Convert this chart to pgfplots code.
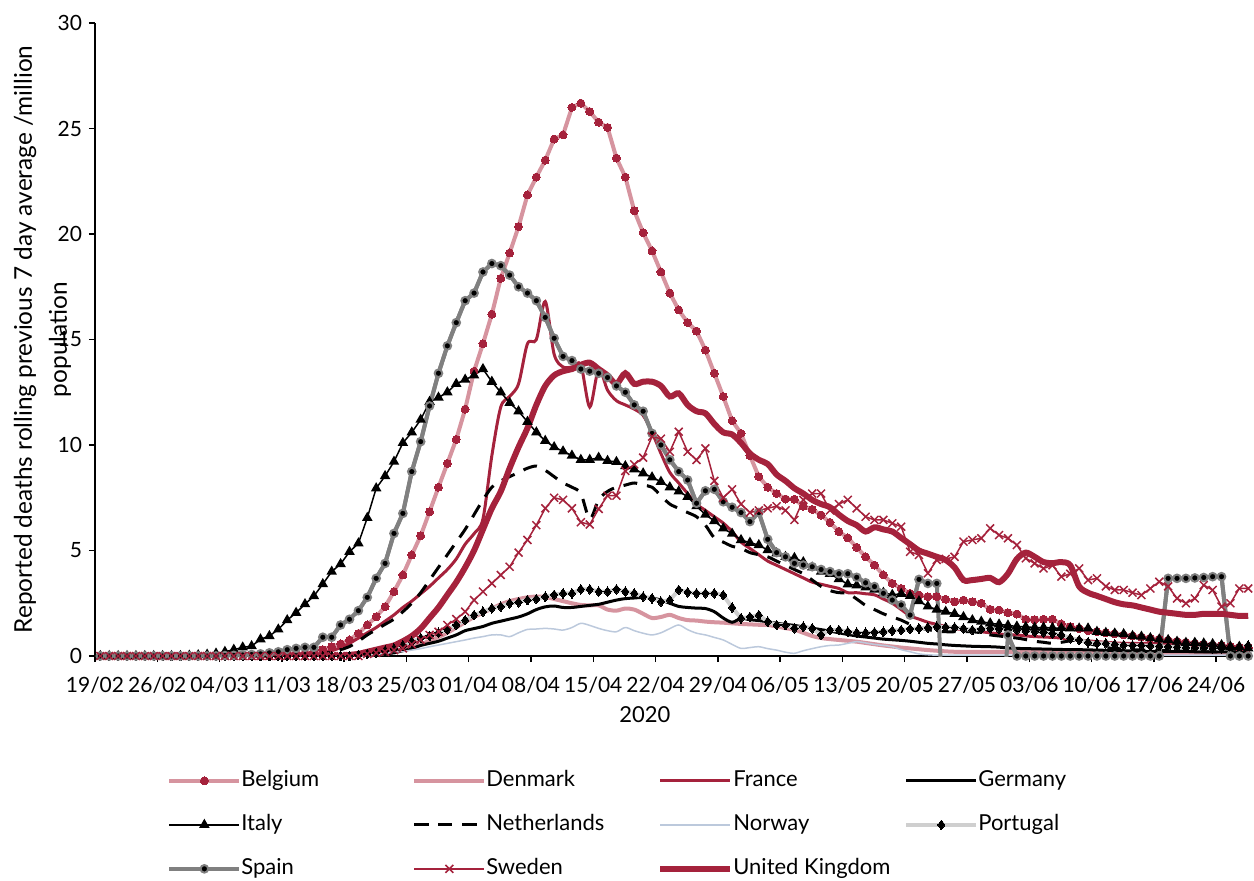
\documentclass[border=0pt]{standalone}
\usepackage{fontspec}
\setmainfont{Lato}
\usepackage{pgfplots}
\usepackage{pgfplotstable}
\pgfplotsset{compat=1.18}
\definecolor{crim}{RGB}{165,34,60}
\definecolor{pinkl}{RGB}{214,148,159}
\definecolor{spg}{RGB}{128,128,128}
\definecolor{porg}{RGB}{207,207,207}
\definecolor{norb}{RGB}{188,201,220}
\pgfplotstableread{
k Bel Den Fra Ger Ita Net Nor Por Spa Swe UK
0 0 0 0 0 0 0 0 0 0 0 0
1 0 0 0 0 0 0 0 0 0 0 0
2 0 0 0 0 0 0 0 0 0 0 0
3 0 0 0 0 0 0 0 0 0 0 0
4 0 0 0 0 0 0 0 0 0 0 0
5 0 0 0 0 0 0 0 0 0 0 0
6 0 0 0 0 0 0 0 0 0 0 0
7 0 0 0 0 0 0 0 0 0 0 0
8 0 0 0 0 0 0 0 0 0 0 0
9 0 0 0 0 0 0 0 0 0 0 0
10 0 0 0 0 0.02 0 0 0 0 0 0
11 0 0 0 0 0.04 0 0 0 0 0 0
12 0 0 0 0 0.07 0 0 0 0 0 0
13 0 0 0 0 0.12 0 0 0 0 0 0
14 0 0 0 0 0.2 0 0 0 0.02 0 0
15 0 0 0 0 0.3 0 0 0 0.03 0 0
16 0 0 0 0 0.41 0 0 0 0.05 0 0
17 0 0 0 0 0.47 0 0 0 0.07 0 0
18 0 0 0 0 0.79 0 0 0 0.1 0 0
19 0 0 0 0 0.95 0 0 0 0.15 0 0
20 0.03 0 0 0 1.26 0 0 0 0.2 0 0
21 0.05 0 0 0 1.7 0 0 0 0.3 0 0
22 0.08 0 0 0 2.05 0 0 0 0.36 0 0
23 0.12 0 0 0 2.46 0 0 0 0.41 0 0
24 0.2 0 0 0 2.84 0 0 0 0.41 0 0
25 0.3 0 0.15 0 3.41 0.1 0 0 0.89 0 0
26 0.44 0 0.25 0 4.0 0.2 0 0 0.89 0 0
27 0.57 0 0.4 0 4.36 0.3 0 0 1.47 0 0
28 0.76 0 0.6 0.02 4.94 0.45 0 0 1.74 0 0.05
29 1.07 0 0.85 0.04 5.34 0.7 0 0.05 2.15 0 0.1
30 1.47 0.05 1.1 0.06 6.55 1.0 0.05 0.1 2.78 0.1 0.2
31 1.86 0.08 1.35 0.08 7.95 1.25 0.08 0.15 3.68 0.15 0.3
32 2.34 0.12 1.65 0.1 8.53 1.5 0.12 0.25 4.39 0.2 0.4
33 3.05 0.2 1.95 0.15 9.21 1.75 0.18 0.35 5.81 0.28 0.5
34 3.84 0.3 2.3 0.25 10.1 2.1 0.22 0.5 6.76 0.36 0.7
35 4.79 0.42 2.6 0.35 10.6 2.5 0.28 0.68 8.74 0.55 0.95
36 5.7 0.55 2.95 0.5 11.2 3.0 0.35 0.85 10.16 0.76 1.3
37 6.84 0.72 3.3 0.6 12.05 3.6 0.44 0.95 11.85 1.0 1.8
38 8.0 0.9 3.7 0.7 12.25 4.2 0.52 1.1 13.4 1.15 2.3
39 9.13 1.1 4.1 0.85 12.5 4.8 0.6 1.25 14.7 1.47 2.9
40 10.27 1.35 4.6 1.0 12.9 5.4 0.68 1.47 15.8 1.75 3.5
41 11.7 1.6 5.3 1.2 13.1 6.0 0.76 1.7 16.84 2.1 4.2
42 13.5 1.85 5.8 1.3 13.3 6.7 0.85 1.94 17.2 2.65 5.0
43 14.8 2.05 6.5 1.4 13.6 7.4 0.92 2.1 18.2 3.05 6.0
44 16.2 2.25 9.5 1.55 13.0 8.0 1.0 2.26 18.6 3.44 7.0
45 17.9 2.45 11.8 1.65 12.5 8.3 1.0 2.34 18.5 3.84 7.8
46 19.1 2.6 12.3 1.75 12.0 8.5 0.92 2.5 18.05 4.23 8.9
47 20.35 2.7 12.9 1.85 11.6 8.7 1.1 2.55 17.5 4.9 9.9
48 21.85 2.78 14.8 2.0 11.1 8.9 1.26 2.65 17.2 5.5 10.8
49 22.7 2.82 15.0 2.2 10.6 9.0 1.28 2.7 16.84 6.2 11.9
50 23.5 2.8 16.8 2.33 10.2 8.8 1.31 2.81 16.05 7.0 12.8
51 24.5 2.7 14.3 2.37 9.9 8.5 1.28 2.9 15.06 7.5 13.3
52 24.7 2.6 13.7 2.3 9.7 8.2 1.23 2.97 14.2 7.4 13.5
53 26.0 2.5 13.7 2.3 9.5 8.0 1.35 2.97 14.0 7.0 13.6
54 26.2 2.42 13.8 2.35 9.3 7.7 1.55 3.16 13.6 6.34 13.8
55 25.8 2.4 11.8 2.4 9.3 6.5 1.45 3.16 13.5 6.23 13.9
56 25.3 2.4 13.6 2.45 9.4 7.4 1.31 3.05 13.4 6.97 13.6
57 25.05 2.2 12.6 2.55 9.25 7.8 1.2 3.05 13.2 7.6 13.3
58 23.6 2.15 12.1 2.65 9.2 8.0 1.15 3.16 12.8 7.6 12.9
59 22.7 2.25 11.9 2.72 9.0 8.1 1.35 3.05 12.5 8.77 13.4
60 21.1 2.2 11.7 2.75 8.85 8.2 1.2 2.97 11.9 9.08 12.9
61 20.06 2.0 11.4 2.78 8.66 8.1 1.08 2.81 11.6 9.4 13.0
62 19.2 1.8 10.6 2.75 8.47 8.0 1.0 2.73 10.55 10.4 13.0
63 18.2 1.85 9.6 2.65 8.26 7.6 1.1 2.57 10.0 10.3 12.8
64 17.2 1.95 8.7 2.5 8.0 7.2 1.3 2.65 9.3 9.68 12.3
65 16.4 1.8 8.2 2.35 7.8 7.0 1.47 3.13 8.74 10.63 12.45
66 15.8 1.7 7.7 2.3 7.55 6.8 1.25 3.02 8.34 9.68 11.9
67 15.4 1.68 7.2 2.27 7.1 6.6 1.08 2.97 7.24 9.29 11.6
68 14.5 1.63 6.9 2.25 6.7 6.2 1.0 2.97 7.83 9.84 11.5
69 13.4 1.6 6.6 2.1 6.4 5.6 0.88 2.97 7.9 8.3 11.0
70 12.3 1.58 6.3 1.8 6.05 5.4 0.76 2.89 7.31 7.5 10.6
71 11.15 1.55 5.9 1.6 5.8 5.2 0.55 2.3 7.05 7.9 10.5
72 10.55 1.52 5.4 1.78 5.5 5.1 0.36 1.79 6.8 7.2 10.1
73 9.5 1.5 5.1 1.72 5.37 4.9 0.4 1.85 6.37 6.8 9.6
74 8.5 1.48 4.8 1.68 5.26 4.8 0.44 1.94 6.8 6.9 9.3
75 8.0 1.47 4.5 1.62 5.02 4.7 0.35 1.63 5.53 7.0 9.1
76 7.7 1.4 4.3 1.55 4.87 4.5 0.28 1.47 4.9 7.1 8.6
77 7.44 1.32 4.1 1.5 4.7 4.3 0.18 1.47 4.7 6.9 8.3
78 7.43 1.25 3.9 1.45 4.65 4.1 0.13 1.31 4.39 6.45 7.95
79 7.1 1.1 3.7 1.38 4.45 3.9 0.25 1.39 4.31 7.4 7.7
80 6.95 0.95 3.5 1.32 4.2 3.6 0.35 1.31 4.23 7.7 7.4
81 6.68 0.85 3.4 1.25 4.0 3.3 0.44 1.0 4.1 7.7 7.2
82 6.33 0.8 3.3 1.18 3.9 3.1 0.5 1.23 4.0 6.9 7.05
83 5.9 0.76 3.2 1.1 3.65 3.0 0.52 1.23 3.9 7.2 6.7
84 5.6 0.72 3.0 1.02 3.4 2.97 0.6 1.15 3.9 7.4 6.4
85 5.15 0.68 3.0 0.95 3.35 2.7 0.68 1.1 3.73 7.0 6.2
86 4.7 0.62 2.95 0.9 3.25 2.4 0.62 1.1 3.47 6.6 5.9
87 4.31 0.56 2.9 0.85 3.15 2.2 0.55 1.12 3.29 6.45 6.1
88 3.84 0.5 2.7 0.8 3.0 2.0 0.5 1.15 2.97 6.45 6.0
89 3.44 0.45 2.5 0.77 2.9 1.85 0.44 1.2 2.65 6.29 5.9
90 3.2 0.4 2.2 0.74 2.95 1.7 0.3 1.23 2.42 6.13 5.6
91 2.97 0.36 1.9 0.7 2.85 1.5 0.2 1.28 1.94 4.94 5.3
92 2.89 0.32 1.75 0.65 2.6 1.35 0.1 1.31 3.63 4.79 5.0
93 2.81 0.28 1.6 0.6 2.35 1.25 0.06 1.35 3.44 3.92 4.85
94 2.81 0.25 1.5 0.57 2.2 1.18 0.04 1.39 3.44 4.55 4.7
95 2.69 0.22 1.4 0.53 2.1 1.15 0.04 1.37 -5 4.6 4.55
96 2.57 0.2 1.3 0.5 2.0 1.15 0.04 1.35 -5 4.7 4.2
97 2.65 0.2 1.25 0.48 1.85 1.15 0.04 1.3 -5 5.42 3.6
98 2.57 0.2 1.2 0.46 1.7 1.15 0.04 1.23 -5 5.5 3.6
99 2.5 0.2 1.15 0.45 1.63 1.1 0.04 1.28 -5 5.58 3.65
100 2.21 0.2 1.1 0.44 1.55 1.0 0.04 1.31 -5 6.05 3.7
101 2.18 0.2 1.05 0.42 1.5 0.95 0.04 1.28 -5 5.73 3.5
102 2.05 0.2 1.0 0.38 1.45 0.9 0.04 1.25 1.0 5.58 3.9
103 1.99 0.2 1.0 0.36 1.4 0.85 0.04 1.23 0 5.26 4.6
104 1.74 0.2 0.95 0.35 1.38 0.78 0.04 1.18 0 4.63 4.9
105 1.72 0.2 0.92 0.34 1.35 0.7 0.04 1.15 0 4.39 4.7
106 1.74 0.2 0.9 0.33 1.35 0.65 0.04 1.12 0 4.15 4.45
107 1.74 0.2 0.88 0.32 1.33 0.6 0.04 1.07 0 4.3 4.4
108 1.52 0.2 0.85 0.31 1.32 0.65 0.04 1.0 0 3.76 4.45
109 1.39 0.2 0.8 0.3 1.31 0.72 0.04 0.84 0 3.9 4.3
110 1.3 0.2 0.75 0.3 1.31 0.76 0.04 0.76 0 4.15 3.3
111 1.2 0.15 0.72 0.29 1.31 0.6 0.04 0.65 0 3.6 3.0
112 1.15 0.15 0.68 0.28 1.15 0.5 0.04 0.6 0 3.68 2.85
113 1.1 0.15 0.65 0.27 1.1 0.4 0.04 0.6 0 3.3 2.7
114 1.05 0.15 0.62 0.26 1.07 0.36 0.04 0.55 0 3.13 2.55
115 1.0 0.15 0.6 0.25 1.04 0.33 0.04 0.52 0 3.13 2.45
116 0.95 0.15 0.6 0.24 0.95 0.3 0.04 0.5 0 3.0 2.4
117 0.9 0.15 0.6 0.22 0.92 0.28 0.04 0.5 0 2.89 2.3
118 0.85 0.15 0.6 0.22 0.85 0.27 0.04 0.48 0 3.2 2.2
119 0.8 0.15 0.6 0.22 0.79 0.26 0.04 0.46 0 3.52 2.1
120 0.75 0.15 0.58 0.22 0.76 0.25 0.04 0.44 3.68 3.3 2.05
121 0.7 0.15 0.56 0.22 0.68 0.24 0.04 0.42 3.68 2.73 2.0
122 0.65 0.15 0.54 0.22 0.63 0.23 0.04 0.4 3.68 2.5 1.95
123 0.6 0.15 0.52 0.2 0.63 0.22 0.04 0.38 3.7 2.73 1.95
124 0.55 0.15 0.5 0.2 0.6 0.21 0.04 0.38 3.72 3.36 2.0
125 0.5 0.15 0.48 0.2 0.57 0.2 0.04 0.36 3.76 3.13 2.0
126 0.5 0.15 0.46 0.2 0.52 0.2 0.04 0.36 3.76 2.34 2.0
127 0.45 0.15 0.45 0.2 0.44 0.2 0.04 0.38 0 2.5 1.95
128 0.42 0.15 0.44 0.2 0.44 0.2 0.04 0.4 0 3.2 1.9
129 0.4 0.15 0.44 0.2 0.36 0.2 0.04 0.5 0 3.2 1.9
}\data
\newcommand{\lt}[1]{\makebox[85.5pt][l]{#1}}
\begin{document}
\begin{tikzpicture}
\begin{axis}[
  scale only axis, width=577.5pt, height=316.5pt,
  xmin=0, xmax=129.8, ymin=0, ymax=30,
  axis x line*=bottom, axis y line*=left,
  axis line style={black, line width=0.75pt},
  xtick={0,7,...,126},
  xticklabels={19/02,26/02,04/03,11/03,18/03,25/03,01/04,08/04,15/04,22/04,29/04,06/05,13/05,20/05,27/05,03/06,10/06,17/06,24/06},
  ytick={0,5,...,30},
  tick style={black, line width=0.75pt}, major tick length=3pt, tick align=outside,
  ticklabel style={font=\fontsize{10.5}{12}\selectfont},
  xticklabel style={yshift=-4pt},
  /pgf/number format/assume math mode=true,
  xlabel={2020},
  xlabel style={font=\fontsize{11}{13}\selectfont, at={(axis description cs:0.476,0)}, anchor=center, yshift=-29.5pt},
  ylabel={Reported deaths rolling previous 7 day average /million\\population},
  ylabel style={font=\fontsize{12.2}{17.5}\selectfont, align=center, at={(axis description cs:-0.0455,0.5)}, anchor=center},
  legend columns=4,
  legend cell align=left,
  legend image code/.code={\draw[mark repeat=2,mark phase=2,#1] plot coordinates {(0pt,0pt) (17.5pt,0pt) (35pt,0pt)};},
  legend style={draw=none, fill=none, inner sep=0pt, at={(axis description cs:0.0623,-0.180)}, anchor=north west,
    font=\fontsize{11}{13}\selectfont, row sep=11.5pt,
    nodes={inner sep=0pt, text height=8pt, text depth=2.5pt},
    /tikz/every odd column/.append style={column sep=0pt},
    /tikz/every even column/.append style={column sep=0pt}},
]
\addplot[pinkl, line width=2pt, mark=*, mark size=2pt, mark options={fill=crim, draw=crim, line width=0pt}] table[x expr=\thisrow{k}+0.6, y=Bel] {\data};
\addlegendentry{\lt{Belgium}}
\addplot[pinkl, line width=2pt, smooth] table[x expr=\thisrow{k}+0.6, y=Den] {\data};
\addlegendentry{\lt{Denmark}}
\addplot[crim, line width=1.5pt, smooth] table[x expr=\thisrow{k}+0.6, y=Fra] {\data};
\addlegendentry{\lt{France}}
\addplot[black, line width=1.5pt, smooth] table[x expr=\thisrow{k}+0.6, y=Ger] {\data};
\addlegendentry{\lt{Germany}}
\addplot[black, line width=0.75pt, mark=triangle*, mark size=2.3pt, mark options={solid}] table[x expr=\thisrow{k}+0.6, y=Ita] {\data};
\addlegendentry{\lt{Italy}}
\addplot[black, line width=1.5pt, dash pattern=on 7pt off 5pt, smooth] table[x expr=\thisrow{k}+0.6, y=Net] {\data};
\addlegendentry{\lt{Netherlands}}
\addplot[norb, line width=0.75pt, smooth] table[x expr=\thisrow{k}+0.6, y=Nor] {\data};
\addlegendentry{\lt{Norway}}
\addplot[porg, line width=2pt, mark=diamond*, mark size=2.4pt, mark options={fill=black, draw=black, line width=0pt}] table[x expr=\thisrow{k}+0.6, y=Por] {\data};
\addlegendentry{\lt{Portugal}}
\addplot[spg, line width=2pt, forget plot] table[x expr=\thisrow{k}+0.6, y=Spa] {\data};
\addplot[spg, line width=2pt, mark=*, mark size=1.9pt, mark options={fill=black, draw=spg, line width=1pt}, restrict y to domain=-0.5:40, unbounded coords=jump] table[x expr=\thisrow{k}+0.6, y=Spa] {\data};
\addlegendentry{\lt{Spain}}
\addplot[crim, line width=0.75pt, mark=x, mark size=2.8pt, mark options={solid, line width=0.75pt}] table[x expr=\thisrow{k}+0.6, y=Swe] {\data};
\addlegendentry{\lt{Sweden}}
\addplot[crim, line width=3pt, smooth] table[x expr=\thisrow{k}+0.6, y=UK] {\data};
\addlegendentry{\lt{United Kingdom}}
\end{axis}
\pgfresetboundingbox
\useasboundingbox (-47.5pt,-112pt) rectangle (579.5pt,328pt);
\end{tikzpicture}
\end{document}
